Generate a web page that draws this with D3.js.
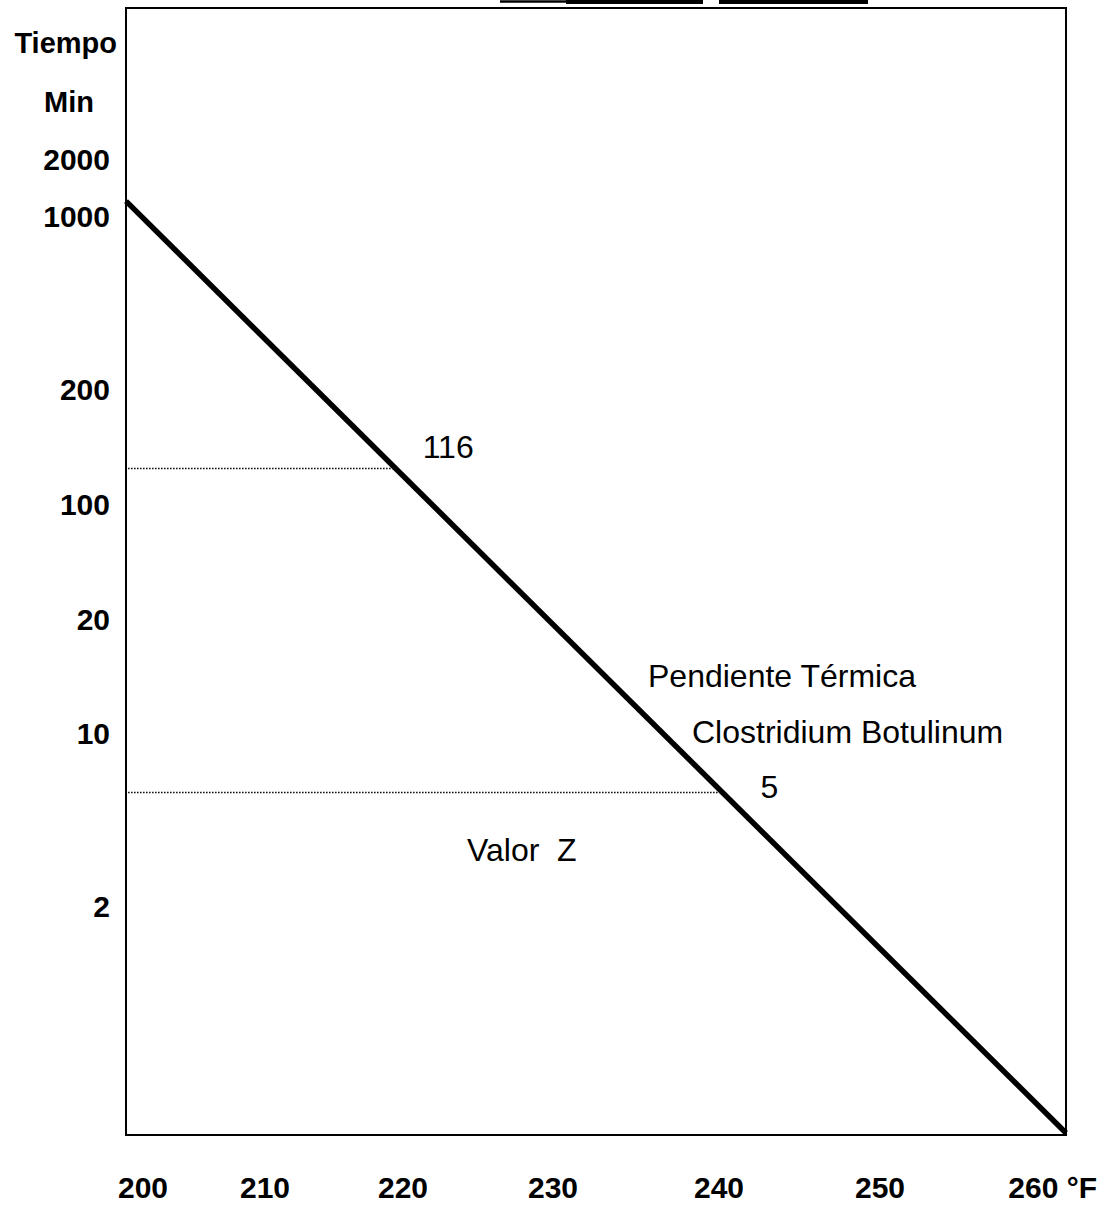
<!DOCTYPE html>
<html>
<head>
<meta charset="utf-8">
<script src="https://cdn.jsdelivr.net/npm/d3@7"></script>
<style>
  html, body { margin: 0; padding: 0; background: #fff; }
  svg { display: block; }
  text { font-family: "Liberation Sans", Arial, sans-serif; fill: #000; }
</style>
</head>
<body>
<svg id="chart" width="1111" height="1208"></svg>
<script>
// ---- data ----
const xTicks = [200, 210, 220, 230, 240, 250, 260];        // °F
const yTicks = [2000, 1000, 200, 100, 20, 10, 2];          // min
const yTitle = ["Tiempo", "Min"];
const xUnit = "°F";
const curveTemp = [200, 260];                               // thermal death time line
const curveTime = [1200, 0.32];
const markTemp = [220, 240];
const markTime = [116, 5];
const markLabels = ["116", "5"];
const notes = ["Pendiente Térmica", "Clostridium Botulinum", "Valor  Z"];

// ---- layout ----
const frame = { left: 126, top: 8, right: 1066, bottom: 1135 };
const svg = d3.select("#chart");

// hand-drawn, non-uniform axes -> piecewise scales
const x = d3.scaleLinear()
  .domain(xTicks)
  .range([frame.left, 265, 403, 553, 719, 880, frame.right]);

const yDomain = [2000, 1000, 200, 116, 100, 20, 10, 5, 2];
const y = d3.scaleLog()
  .domain(yDomain)
  .range([159.5, 216, 389.5, 468.5, 504, 619, 733, 792.5, 906]);

// title underline remnants at very top (title cut off)
const topG = svg.append("g").attr("stroke", "#000");
topG.append("line").attr("x1", 500).attr("x2", 566).attr("y1", 1.5).attr("y2", 1.5)
  .attr("stroke-width", 2.5);
topG.append("line").attr("x1", 566).attr("x2", 703).attr("y1", 2).attr("y2", 2)
  .attr("stroke-width", 4);
topG.append("line").attr("x1", 719).attr("x2", 868).attr("y1", 2).attr("y2", 2)
  .attr("stroke-width", 4);

// frame
svg.append("rect")
  .attr("x", frame.left).attr("y", frame.top)
  .attr("width", frame.right - frame.left).attr("height", frame.bottom - frame.top)
  .attr("fill", "none").attr("stroke", "#000").attr("stroke-width", 2);

// curve
const pts = curveTemp.map((t, i) => [x(t), y(curveTime[i])]);
svg.append("path")
  .attr("d", d3.line()(pts))
  .attr("fill", "none").attr("stroke", "#000").attr("stroke-width", 5.5)
  .attr("stroke-linecap", "butt");

// dotted reference lines from axis to curve
function curveXAt(py) {
  const t = (py - pts[0][1]) / (pts[1][1] - pts[0][1]);
  return pts[0][0] + t * (pts[1][0] - pts[0][0]);
}
const labelOffsets = [[27, -10.5], [38, 5.5]];
markTime.forEach((m, i) => {
  const py = y(m);
  const px = curveXAt(py);
  svg.append("line")
    .attr("x1", frame.left + 2).attr("x2", px)
    .attr("y1", py).attr("y2", py)
    .attr("stroke", "#111").attr("stroke-width", 1.5)
    .attr("stroke-dasharray", "1.6,1.4");
  svg.append("text")
    .attr("x", px + labelOffsets[i][0]).attr("y", py + labelOffsets[i][1])
    .attr("font-size", 32)
    .text(markLabels[i]);
});

// notes
const notePos = [[648, 687], [692, 743], [467, 861]];
notes.forEach((n, i) => {
  svg.append("text")
    .attr("x", notePos[i][0]).attr("y", notePos[i][1])
    .attr("font-size", 32)
    .style("white-space", "pre")
    .attr("xml:space", "preserve")
    .text(n);
});

// y axis labels
const yAxisG = svg.append("g").attr("font-weight", "bold").attr("font-size", 30);
yAxisG.selectAll("text.ytick")
  .data(yTicks)
  .join("text")
  .attr("class", "ytick")
  .attr("x", 110)
  .attr("y", d => y(d))
  .attr("dy", "0.36em")
  .attr("text-anchor", "end")
  .text(d => d);
yAxisG.append("text").attr("x", 117).attr("y", 53).attr("text-anchor", "end")
  .attr("font-size", 29).text(yTitle[0]);
yAxisG.append("text").attr("x", 69).attr("y", 112).attr("text-anchor", "middle")
  .attr("font-size", 29).text(yTitle[1]);

// x axis labels
const xAxisG = svg.append("g").attr("font-weight", "bold").attr("font-size", 30);
xAxisG.selectAll("text.xtick")
  .data(xTicks)
  .join("text")
  .attr("class", "xtick")
  .attr("x", (d, i) => i === 0 ? x(d) - 8 : (i === xTicks.length - 1 ? x(d) + 31 : x(d)))
  .attr("y", 1198)
  .attr("text-anchor", (d, i) => i === 0 ? "start" : (i === xTicks.length - 1 ? "end" : "middle"))
  .style("white-space", "pre")
  .text((d, i) => i === xTicks.length - 1 ? d + " " + xUnit : d);
</script>
</body>
</html>
